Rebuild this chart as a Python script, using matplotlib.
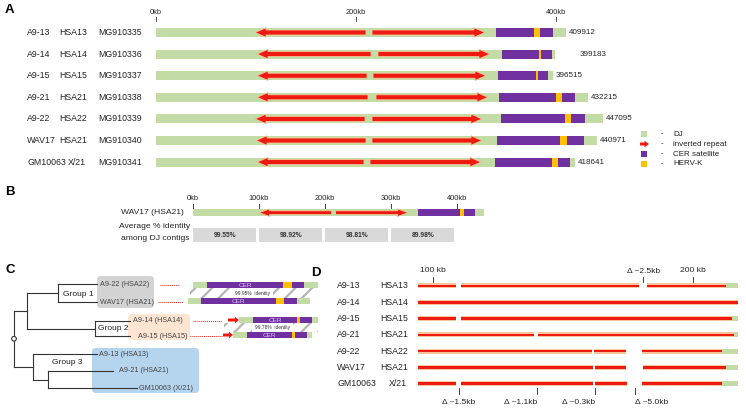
import matplotlib.pyplot as plt
from matplotlib.patches import FancyArrow, FancyBboxPatch, Circle

plt.rcParams['font.family'] = ['Liberation Sans', 'DejaVu Sans']
plt.rcParams['hatch.linewidth'] = 1.6

W, H = 746, 413

GREEN = '#c3dca5'
RED = '#ee1a10'
PURPLE = '#7030a0'
ORANGE = '#ffc000'
PEACH = '#f6c59c'
INK = '#222222'

# ---- panel A: the seven DJ contigs (kb) ----
names = ['A9-13', 'A9-14', 'A9-15', 'A9-21', 'A9-22', 'WAV17', 'GM10063']
chroms = ['HSA13', 'HSA14', 'HSA15', 'HSA21', 'HSA22', 'HSA21', 'X/21']
accessions = ['MG910335', 'MG910336', 'MG910337', 'MG910338', 'MG910339', 'MG910340', 'MG910341']
lengths = [409912, 399183, 396515, 432215, 447095, 440971, 418641]
left_arm = [(99, 210), (101, 215), (101, 211), (101, 212), (99, 209), (100, 210), (101, 208)]
right_arm = [(216, 329), (222, 334), (217, 330), (220, 332), (216, 326), (216, 326), (214, 325)]
cer = [(340, 397), (346, 396), (342, 392), (343, 419), (345, 429), (341, 428), (339, 414)]
herv = [(378, 384), (383, 385), (380, 382), (400, 406), (409, 415), (404, 411), (396, 402)]

legend_labels = ['DJ', 'inverted repeat', 'CER satellite', 'HERV-K']

# ---- panel B: identity per 100 kb bin ----
bins = [0, 100, 200, 300]
identity = [99.55, 98.92, 98.81, 89.98]

# ---- panel C: tree and CER blocks ----
leaf_names = ['A9-22 (HSA22)', 'WAV17 (HSA21)', 'A9-14 (HSA14)', 'A9-15 (HSA15)',
              'A9-13 (HSA13)', 'A9-21 (HSA21)', 'GM10063 (X/21)']
groups = ['Group 1', 'Group 2', 'Group 3']
cer_identity = ['99.95%  identity', '99.78%  identity']

# ---- panel D: inverted repeat arm with deletions (kb) ----
d_segments = [
    [(94.2, 108.8), (110.8, 179.2), (182.3, 212.7)],
    [(94.2, 217.3)],
    [(94.2, 108.8), (110.8, 215.0)],
    [(94.2, 138.8), (140.4, 215.8)],
    [(94.2, 161.2), (161.9, 174.2), (180.4, 211.2)],
    [(94.2, 161.5), (162.3, 174.2), (180.8, 212.7)],
    [(94.2, 108.8), (110.8, 161.5), (162.3, 174.6), (180.4, 211.2)],
]
d_end = 217.3
d_ticks = [100, 200]
d_top_delta = 180.8
d_deletions = [110.0, 140.0, 162.3, 177.7]
d_del_labels = ['\u0394 ~1.5kb', '\u0394 ~1.1kb', '\u0394 ~0.3kb', '\u0394 ~5.0kb']

fig = plt.figure(figsize=(W / 100, H / 100), dpi=100)


def ftext(x, y, s, **kw):
    kw.setdefault('va', 'center')
    kw.setdefault('color', INK)
    fig.text(x / W, 1 - y / H, s, **kw)


def kb_axes(x0, scale, top, bottom):
    # x in kb, y in pixels from the top of the figure
    ax = fig.add_axes([0, 1 - bottom / H, 1, (bottom - top) / H])
    ax.set_xlim(-x0 / scale, (W - x0) / scale)
    ax.set_ylim(bottom, top)
    ax.axis('off')
    return ax


def draw_contig(ax, y, length, larm, rarm, cer_seg, herv_seg, h, aw, ahw, ahl):
    ax.barh(y, length, left=0, height=h, color=GREEN, lw=0)
    ax.barh(y, cer_seg[1] - cer_seg[0], left=cer_seg[0], height=h, color=PURPLE, lw=0)
    ax.barh(y, herv_seg[1] - herv_seg[0], left=herv_seg[0], height=h, color=ORANGE, lw=0)
    ax.add_patch(FancyArrow(larm[1], y, larm[0] - larm[1], 0, width=aw, head_width=ahw,
                            head_length=ahl, length_includes_head=True, fc=RED, ec=PEACH,
                            lw=0.6, zorder=3))
    ax.add_patch(FancyArrow(rarm[0], y, rarm[1] - rarm[0], 0, width=aw, head_width=ahw,
                            head_length=ahl, length_includes_head=True, fc=RED, ec=PEACH,
                            lw=0.6, zorder=3))


# panel letters
for letter, (lx, ly) in zip('ABCD', [(5, 10), (5, 192), (5, 270), (311, 273)]):
    ftext(lx, ly, letter, fontsize=9.5, fontweight='bold', color='black')

# ================= A =================
axA = kb_axes(156, 1.0, 0, 185)
label_gap = [3, 24, 3, 3, 3, 3, 3]
for i in range(len(names)):
    y = 32.5 + 21.6 * i
    draw_contig(axA, y, lengths[i] / 1000, left_arm[i], right_arm[i], cer[i], herv[i],
                9, 5, 9.5, 11)
    axA.text(lengths[i] / 1000 + label_gap[i], y, str(lengths[i]), fontsize=5.8,
             va='center', color=INK)
    ftext(27, y, names[i], fontsize=6.3)
    ftext(68 if chroms[i] == 'X/21' else 59, y, chroms[i], fontsize=6.3)
    ftext(98, y, accessions[i], fontsize=6.3)
for t in [0, 200, 400]:
    axA.text(t, 12, f'{t}kb', fontsize=5.3, ha='center', va='center', color=INK)
    axA.plot([t, t], [17, 21], color=INK, lw=0.6)

# legend
axP = fig.add_axes([0, 0, 1, 1])
axP.set_xlim(0, W)
axP.set_ylim(H, 0)
axP.axis('off')
for j, lab in enumerate(legend_labels):
    y = 134 + 10 * j
    if j == 1:
        axP.add_patch(FancyArrow(640, y, 9, 0, width=3, head_width=6.5, head_length=4.5,
                                 length_includes_head=True, fc=RED, ec='none'))
    else:
        col = [GREEN, None, PURPLE, ORANGE][j]
        axP.add_patch(plt.Rectangle((641, y - 3.2), 6.4, 6.4, fc=col, ec='none'))
    ftext(661, y, '-', fontsize=5.8)
    ftext(673, y, lab, fontsize=5.8)

# ================= B =================
axB = kb_axes(193, 0.66, 190, 250)
w = names.index('WAV17')
draw_contig(axB, 212.7, lengths[w] / 1000, left_arm[w], right_arm[w], cer[w], herv[w],
            7, 3.8, 7.5, 16)
for t in range(0, 401, 100):
    axB.text(t, 199, f'{t}kb', fontsize=5.3, ha='center', va='center', color=INK)
    axB.plot([t, t], [203.5, 207.5], color=INK, lw=0.6)
axB.barh([235] * len(bins), [96] * len(bins), left=bins, height=14, color='#d9d9d9', lw=0)
for b, v in zip(bins, identity):
    axB.text(b + 48, 235.3, f'{v:.2f}%', fontsize=4.8, fontweight='bold', ha='center',
             va='center', color='#333333')
ftext(184, 212.7, 'WAV17 (HSA21)', fontsize=6.1, ha='right')
ftext(155, 227, 'Average % identity', fontsize=6.1, ha='center')
ftext(155, 238.5, 'among DJ contigs', fontsize=6.1, ha='center')

# ================= C =================
leaf_y = [284, 302, 321, 336, 354, 371, 388]
leaf_text_x = [100, 100, 133, 138, 99, 119, 139]
tree = (14, [(27, [(58, [(97, 0), (97, 1)]), (95, [(130, 2), (130, 3)])]),
             (33, [(97, 4), (48, [(113, 5), (137, 6)])])])


def node_y(node):
    x, kids = node
    if isinstance(kids, int):
        return leaf_y[kids]
    return (node_y(kids[0]) + node_y(kids[-1])) / 2


def draw_tree(node):
    x, kids = node
    if isinstance(kids, int):
        return
    ys = [node_y(k) for k in kids]
    axP.plot([x, x], [min(ys), max(ys)], color='#333333', lw=0.8, zorder=3)
    for k, ky in zip(kids, ys):
        axP.plot([x, k[0]], [ky, ky], color='#333333', lw=0.8, zorder=3)
        draw_tree(k)


# group boxes
for (bx0, by0, bx1, by1), col in zip([(97, 276, 154, 308), (128, 314, 190, 340),
                                      (92, 348, 199, 393)],
                                     ['#d3d3d3', '#fde5d1', '#b5d4ee']):
    axP.add_patch(FancyBboxPatch((bx0 + 4, by0 + 4), bx1 - bx0 - 8, by1 - by0 - 8,
                                 boxstyle='round,pad=4', fc=col, ec='none', zorder=1))
draw_tree(tree)
axP.add_patch(Circle((14, node_y(tree)), 2.3, fc='white', ec='#333333', lw=0.8, zorder=4))
for name, tx, ty in zip(leaf_names, leaf_text_x, leaf_y):
    ftext(tx, ty, name, fontsize=5.2, color='#444444')
for g, (gx, gy) in zip(groups, [(63, 294), (98, 329), (52, 363)]):
    ftext(gx, gy, g, fontsize=6, color='#222222')

# dotted links to CER blocks
for (x0, x1), y in zip([(160, 178), (158, 183), (193, 222), (190, 222)], [285, 302, 321, 336]):
    axP.plot([x0, x1], [y, y], color=RED, lw=0.7, ls=(0, (1, 1)))

c_rows = [285, 301, 320, 335]
c_green = [(193, 318), (188, 310), (239, 318), (233, 312)]
c_cer = [(207, 304), (201, 297), (253, 312), (247, 307)]
c_herv = [(283, 292), (276, 284), (297, 300), (292, 295)]
c_arrow = [None, None, (228, 239), (223, 233)]

# hatched identity bands
for (hx0, hx1, hy0, hy1), (wx0, wx1), lab in zip([(190, 318, 288, 298), (224, 318, 323, 332)],
                                                 [(232, 273), (252, 293)], cer_identity):
    axP.add_patch(plt.Rectangle((hx0, hy0), hx1 - hx0, hy1 - hy0, fc='white',
                                ec='#b4b4b4', hatch='//', lw=0, zorder=1))
    axP.add_patch(plt.Rectangle((wx0, hy0), wx1 - wx0, hy1 - hy0, fc='white', ec='none',
                                zorder=2))
    ftext((wx0 + wx1) / 2, (hy0 + hy1) / 2 + 0.3, lab, fontsize=3.5, ha='center',
          color='#333333')

for y, g, c, hv, ar in zip(c_rows, c_green, c_cer, c_herv, c_arrow):
    axP.barh(y, g[1] - g[0], left=g[0], height=6, color=GREEN, lw=0, zorder=3)
    axP.barh(y, c[1] - c[0], left=c[0], height=6, color=PURPLE, lw=0, zorder=3)
    axP.barh(y, hv[1] - hv[0], left=hv[0], height=6, color=ORANGE, lw=0, zorder=3)
    axP.text((c[0] + hv[0]) / 2, y + 0.3, 'CER', fontsize=4.6, color='#dcc6f5', ha='center',
             va='center', zorder=4)
    if ar:
        axP.add_patch(FancyArrow(ar[0], y, ar[1] - ar[0], 0, width=3, head_width=6.5,
                                 head_length=4, length_includes_head=True, fc=RED, ec='none',
                                 zorder=3))

# ================= D =================
axD = kb_axes(173, 2.6, 262, 410)
for i, segs in enumerate(d_segments):
    y = 286 + 16.3 * i
    last = segs[-1][1]
    if last < d_end:
        axD.barh(y, d_end - last, left=last, height=5, color=GREEN, lw=0)
    for s0, s1 in segs:
        axD.barh(y, s1 - s0, left=s0, height=5, color=PEACH, lw=0)
        axD.barh(y, s1 - s0, left=s0, height=2.6, color=RED, lw=0)
    ftext(337, y, names[i], fontsize=6.3)
    ftext(389 if chroms[i] == 'X/21' else 380, y, chroms[i], fontsize=6.3)
for t in d_ticks:
    axD.text(t, 271, f'{t} kb', fontsize=6.1, ha='center', va='center', color=INK)
    axD.plot([t, t], [277, 282], color=INK, lw=0.6)
axD.text(d_top_delta, 271.5, '\u0394 ~2.5kb', fontsize=6, ha='center', va='center', color=INK)
axD.plot([d_top_delta, d_top_delta], [277, 282], color=INK, lw=0.6)
for pos, lab, ha in zip(d_deletions, d_del_labels, ['center', 'right', 'right', 'left']):
    axD.plot([pos, pos], [388, 394], color=INK, lw=0.6)
    axD.text(pos, 402, lab, fontsize=6, ha=ha, va='center', color=INK)

fig.savefig('out.png', dpi=100)
